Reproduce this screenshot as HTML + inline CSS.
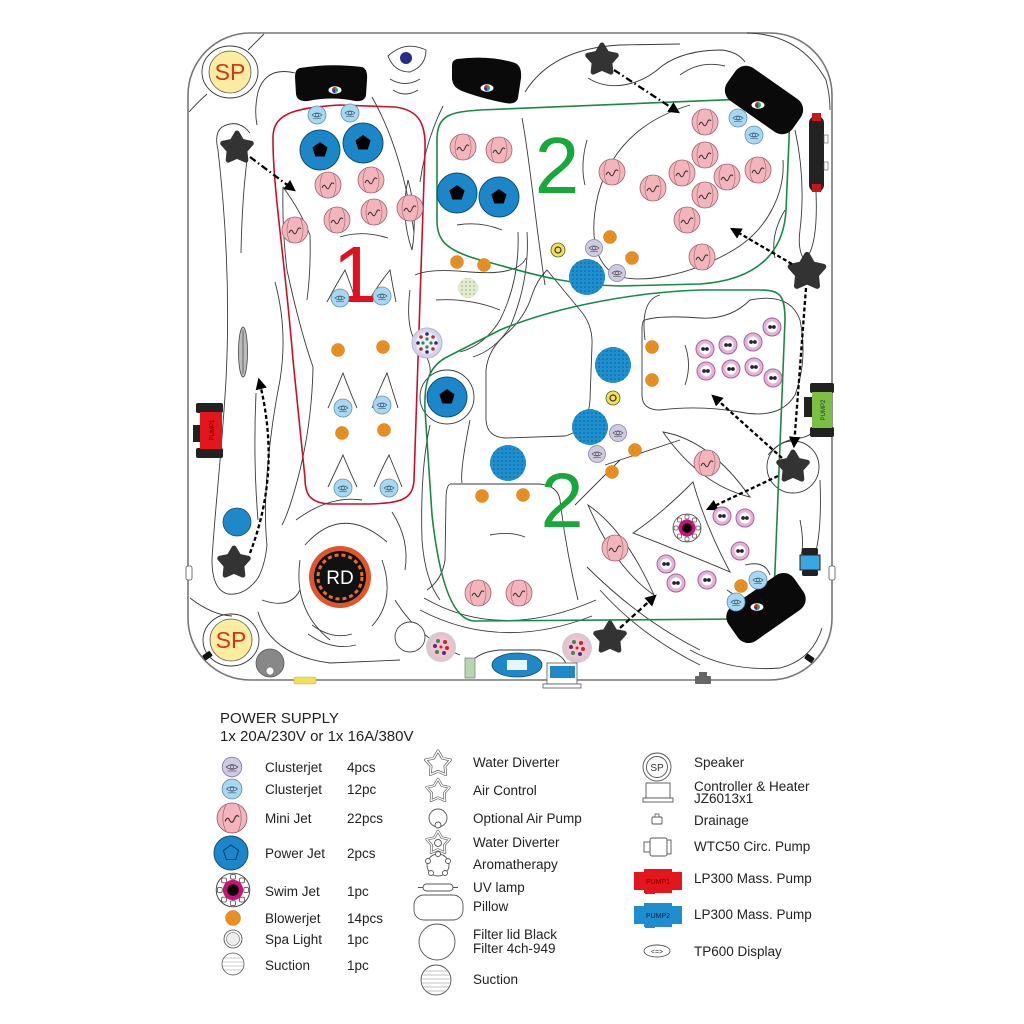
<!DOCTYPE html>
<html><head><meta charset="utf-8"><style>
html,body{margin:0;padding:0;background:#fff;}
svg{display:block;}
.ln{fill:none;stroke:#3a3a3a;stroke-width:0.9;}
.t{font-family:"Liberation Sans",Arial,sans-serif;fill:#222;font-size:13.5px;}
</style></head><body>
<svg width="1024" height="1024" viewBox="0 0 1024 1024" xmlns="http://www.w3.org/2000/svg">
<defs>
<pattern id="dp" width="4" height="4" patternUnits="userSpaceOnUse"><circle cx="2" cy="2" r="0.8" fill="#0c5d94"/></pattern>
<pattern id="gp" width="4" height="4" patternUnits="userSpaceOnUse"><circle cx="2" cy="2" r="0.8" fill="#9aab7a"/></pattern>
<marker id="ah" viewBox="0 0 10 10" refX="8" refY="5" markerWidth="5" markerHeight="5" orient="auto"><path d="M0,0 L10,5 L0,10 z" fill="#000"/></marker>
<g id="mj"><circle r="13" fill="#f3b5bb" stroke="#9c6470" stroke-width="0.8"/><path d="M-5,-12 Q-11,0 -5,12 M5,-12 Q11,0 5,12" fill="none" stroke="#9c6470" stroke-width="0.6"/><path d="M-6,3 q2,-5 4,-1 t4,-1 t4,-2" fill="none" stroke="#333" stroke-width="1"/></g>
<g id="cb"><circle r="9" fill="#a8d8f0" stroke="#5d8fb0" stroke-width="0.8"/><path d="M-5,0 Q0,-4 5,0 Q0,4 -5,0 Z" fill="none" stroke="#3d6078" stroke-width="0.7"/><circle r="1.6" fill="none" stroke="#3d6078" stroke-width="0.6"/><path d="M-4,3.5 h8" stroke="#3d6078" stroke-width="0.6"/></g>
<g id="cp"><circle r="8.5" fill="#cfcae2" stroke="#8a80a8" stroke-width="0.8"/><path d="M-5,0 Q0,-4 5,0 Q0,4 -5,0 Z" fill="none" stroke="#555" stroke-width="0.7"/><circle r="1.5" fill="none" stroke="#555" stroke-width="0.6"/><path d="M-4,3.5 h8" stroke="#555" stroke-width="0.6"/></g>
<g id="pj"><circle r="20" fill="#1b87c9" stroke="#0d4f7a" stroke-width="1"/><polygon points="0,-8 7.6,-2.5 4.7,6.5 -4.7,6.5 -7.6,-2.5" fill="#000"/></g>
<g id="bj"><circle r="6.5" fill="#e8901f" stroke="#c7701a" stroke-width="0.5"/><circle r="2.5" fill="none" stroke="#c06a10" stroke-width="0.5" stroke-dasharray="1 1"/></g>
<g id="db"><circle r="18" fill="#1e90d0"/><circle r="18" fill="url(#dp)"/></g>
<g id="pk"><circle r="9" fill="#e6b3d6" stroke="#a8609a" stroke-width="1"/><circle r="5.5" fill="#fff"/><circle cx="-1.9" r="1.9" fill="#223"/><circle cx="1.9" r="1.9" fill="#223"/></g>
<g id="st"><path d="M0,-15 L4.85,-6.68 L14.27,-4.64 L7.85,2.55 L8.82,12.14 L0,8.25 L-8.82,12.14 L-7.85,2.55 L-14.27,-4.64 L-4.85,-6.68 Z" fill="#333" stroke="#333" stroke-width="5" stroke-linejoin="round"/></g>
<g id="sto"><path d="M0,-12 L3.9,-5.3 L11.4,-3.7 L6.3,2 L7,9.7 L0,6.6 L-7,9.7 L-6.3,2 L-11.4,-3.7 L-3.9,-5.3 Z" fill="none" stroke="#555" stroke-width="2.5" stroke-linejoin="round"/><path d="M0,-12 L3.9,-5.3 L11.4,-3.7 L6.3,2 L7,9.7 L0,6.6 L-7,9.7 L-6.3,2 L-11.4,-3.7 L-3.9,-5.3 Z" fill="none" stroke="#fff" stroke-width="1.3" stroke-linejoin="round"/></g>
<g id="sw"><circle r="14" fill="#fff" stroke="#444" stroke-width="0.8"/><g fill="none" stroke="#555" stroke-width="0.7"><rect x="-2" y="-13" width="4" height="4" rx="1"/><rect x="-2" y="9" width="4" height="4" rx="1"/><rect x="-13" y="-2" width="4" height="4" rx="1"/><rect x="9" y="-2" width="4" height="4" rx="1"/><rect x="5.5" y="-10" width="4" height="4" rx="1"/><rect x="-9.5" y="-10" width="4" height="4" rx="1"/><rect x="5.5" y="6" width="4" height="4" rx="1"/><rect x="-9.5" y="6" width="4" height="4" rx="1"/></g><circle r="8.5" fill="#d0107a"/><circle r="4.8" fill="#000"/></g>
<g id="lt"><circle r="15" fill="#dcc6cf"/><circle r="10.5" fill="#f2c4d0"/><circle cx="-3" cy="-6" r="2" fill="#3a8a4a"/><circle cx="4" cy="-5" r="2" fill="#c0282a"/><circle cx="6" cy="1" r="2" fill="#c0282a"/><circle cx="3" cy="6" r="2" fill="#5a2a8a"/><circle cx="-4" cy="5" r="2" fill="#3a8a4a"/><circle cx="-6" cy="-1" r="2" fill="#5a2a8a"/><circle cx="0" cy="0" r="1.5" fill="#c0282a"/></g>
<g id="ey"><ellipse rx="6.5" ry="3.8" fill="#fff"/><circle r="3" fill="#2a6"/><path d="M-3,0 A3,3 0 0 1 0,-3 L0,0 Z" fill="#d22"/><path d="M0,0 L0,3 A3,3 0 0 1 -3,0 Z" fill="#33a"/></g>
</defs>

<!-- tub outline -->
<rect x="188" y="33" width="644" height="647" rx="62" ry="62" fill="#fff" stroke="#777" stroke-width="1.6"/>

<!-- thin interior lines -->
<g class="ln">
<ellipse cx="230" cy="72" rx="28" ry="26"/>
<path d="M189,112 Q198,102 207,94"/>
<path d="M248,50 L264,34"/>
<path d="M295,73 Q266,66 258,92 Q254,110 257,125"/>
<path d="M250,133 Q238,118 222,127 Q214,133 218,150 C226,220 230,300 226,380 C222,450 214,520 212,560 Q212,590 228,594 Q245,596 258,578 Q265,565 267,545 C262,500 270,430 280,380 Q288,330 275,282"/>
<path d="M247,160 Q242,200 241,253"/>
<path d="M283,187 Q300,210 310,235 Q311,270 307,300"/>
<path d="M283,187 Q282,230 287,270 Q300,330 313,367 Q312,420 300,470 Q290,510 282,525"/>
<path d="M256,393 Q253,460 258,520"/>
<path d="M372,97 Q402,150 414,232"/>
<path d="M443,106 Q426,140 420,182"/>
<path d="M408,180 Q400,215 412,250 Q418,215 408,180 Z"/>
<path d="M340,237 Q362,230 388,238"/>
<path d="M327,302 Q336,285 345,270 Q352,288 356,302"/>
<path d="M368,302 Q378,285 390,270 Q393,288 396,302"/>
<path d="M328,408 Q336,390 343,373 Q350,392 357,408"/>
<path d="M372,408 Q379,390 387,373 Q393,392 398,408"/>
<path d="M328,487 Q336,470 343,455 Q350,472 357,487"/>
<path d="M374,487 Q381,470 389,455 Q396,472 402,487"/>
<path d="M388,56 Q405,40 426,50 Q426,66 410,72 Q394,72 388,56 Z"/>
<path d="M390,79 Q405,88 420,79"/>
<path d="M393,90 Q405,98 418,90"/>
<path d="M525,92 C545,60 580,47 620,45 L680,44"/>
<path d="M588,78 C610,92 640,86 662,66 Q684,50 722,50 Q738,52 745,62"/>
<path d="M680,75 Q700,60 725,66"/>
<path d="M522,118 C530,160 535,220 545,285"/>
<path d="M598,195 C590,230 592,260 615,275 C640,285 690,275 730,252 C770,230 785,190 783,160"/>
<path d="M598,195 C610,150 640,120 690,105"/>
<path d="M587,140 Q580,165 585,185"/>
<path d="M457,225 Q480,221 502,230"/>
<path d="M747,33 Q800,34 826,80 Q830,95 830,110"/>
<path d="M795,130 Q806,180 800,230 Q797,252 806,262"/>
<path d="M816,192 Q818,240 808,256"/>
<path d="M785,210 Q770,235 775,258"/>
<path d="M415,275 Q430,268 470,272 Q518,276 526,258"/>
<path d="M436,300 Q470,298 500,310"/>
<path d="M410,290 Q405,330 418,345 Q432,360 430,375"/>
<path d="M527,232 Q530,280 510,327 Q495,350 473,357"/>
<path d="M518,232 Q520,280 500,320 Q485,345 460,352"/>
<path d="M547,270 L580,310 Q593,325 592,345 L590,400 Q588,430 565,436 L505,438 Q487,437 486,420 L486,370 Q488,350 505,335 Q525,318 532,295 Q537,280 547,270 Z"/>
<circle cx="447" cy="397" r="27"/>
<path d="M430,425 Q420,470 422,540 Q425,580 440,600"/>
<path d="M470,420 Q460,470 462,483"/>
<path d="M450,484 L540,484 Q558,486 560,500 Q566,550 578,600"/>
<path d="M450,484 Q446,486 446,500 L445,560 Q442,580 427,590"/>
<path d="M490,535 Q510,531 525,537"/>
<path d="M420,610 Q500,652 592,616"/>
<path d="M424,598 Q500,642 596,600"/>
<path d="M468,668 Q474,652 500,650 L540,650 Q562,652 566,664"/>
<path d="M588,505 Q625,530 654,595 Q615,568 588,505 Z"/>
<path d="M663,432 Q710,440 750,497 Q700,485 663,432 Z"/>
<path d="M693,482 Q660,515 633,533 Q690,555 730,572 Q705,525 693,482 Z"/>
<path d="M645,320 Q660,315 700,318 Q730,320 750,300 Q790,292 800,320 Q808,360 795,395 Q780,420 740,412 Q700,405 660,410 Q642,410 642,395 L642,330 Q642,320 645,320 Z"/>
<path d="M685,345 Q692,365 685,385"/>
<circle cx="793" cy="467" r="26"/>
<path d="M768,455 Q780,440 800,438 Q815,436 820,420"/>
<path d="M645,340 Q640,300 660,295"/>
<path d="M680,440 L605,465"/>
<path d="M620,460 L575,505"/>
<path d="M587,567 Q640,620 700,650"/>
<path d="M600,590 Q640,635 700,665"/>
<path d="M690,650 Q730,672 780,668 Q812,660 822,628"/>
<path d="M820,480 Q822,530 815,555"/>
<path d="M800,520 Q805,545 800,560"/>
<path d="M745,565 Q765,560 770,575"/>
<path d="M727,590 Q740,600 758,598"/>
<path d="M305,545 Q342,503 387,542"/>
<path d="M296,520 Q330,495 362,500"/>
<path d="M392,512 Q410,540 405,570"/>
<path d="M300,560 Q293,610 330,640"/>
<path d="M382,560 Q396,600 372,626"/>
<path d="M312,625 Q332,640 352,634"/>
<path d="M308,634 Q332,651 356,645"/>
<path d="M258,612 Q270,655 330,663 L400,660"/>
<path d="M190,598 Q212,615 232,616"/>
<path d="M262,600 Q290,610 300,590"/>
<path d="M395,600 Q420,640 460,655"/>
</g>

<!-- red region 1 -->
<path d="M273,140 C272,115 290,108 340,105 L395,107 C420,110 426,125 425,150 L414,480 C413,500 400,503 370,504 L330,504 C308,503 305,492 305,478 L293,360 C285,260 273,190 273,140 Z" fill="none" stroke="#c8102e" stroke-width="1.6"/>

<!-- green regions -->
<path d="M437,140 C437,115 450,112 480,110 L770,98 C790,98 790,110 789,140 L786,210 C784,250 760,280 700,284 L620,286 C560,285 520,270 480,260 C445,250 437,240 437,220 Z" fill="none" stroke="#178a4a" stroke-width="1.6"/>
<path d="M785,320 C785,295 780,290 760,290 L700,290 C640,292 560,305 500,330 L445,358 C428,368 424,385 425,410 L432,515 C438,570 450,621 475,621 L740,619 C768,617 774,600 775,570 Z" fill="none" stroke="#178a4a" stroke-width="1.6"/>

<!-- numbers -->
<text x="355" y="302" font-family="Liberation Sans,Arial,sans-serif" font-size="80" fill="#e0101e" text-anchor="middle">1</text>
<text x="557" y="193" font-family="Liberation Sans,Arial,sans-serif" font-size="80" fill="#17a83a" text-anchor="middle">2</text>
<text x="562" y="527" font-family="Liberation Sans,Arial,sans-serif" font-size="77" fill="#17a83a" text-anchor="middle">2</text>

<!-- pillows -->
<path d="M300,68 Q330,63 362,67 Q368,69 367,80 L366,95 Q365,102 355,101 Q332,96 308,101 Q297,102 296,94 L295,77 Q295,69 300,68 Z" fill="#0a0a0a"/>
<use href="#ey" x="335" y="90"/>
<path d="M457,59 Q490,55 515,63 Q522,66 521,78 L518,98 Q516,105 505,103 Q480,98 462,91 Q452,87 452,78 L452,66 Q452,60 457,59 Z" fill="#0a0a0a"/>
<use href="#ey" x="487" y="88"/>
<rect x="724" y="80" width="80" height="40" rx="13" fill="#0a0a0a" transform="rotate(35 764 100)"/>
<use href="#ey" x="758" y="105"/>
<rect x="726" y="587" width="80" height="42" rx="13" fill="#0a0a0a" transform="rotate(-35 766 608)"/>
<use href="#ey" x="757" y="607"/>

<!-- top blue dot -->
<circle cx="406" cy="58" r="6" fill="#2a2a8a"/>

<!-- SP -->
<circle cx="230" cy="72" r="21" fill="#fbeda0" stroke="#555" stroke-width="0.8"/>
<text x="230" y="80" font-family="Liberation Sans,Arial,sans-serif" font-size="23" fill="#d4341f" text-anchor="middle">SP</text>
<ellipse cx="231" cy="640" rx="28" ry="26" fill="none" stroke="#3a3a3a" stroke-width="0.9"/>
<circle cx="231" cy="640" r="21" fill="#fbeda0" stroke="#555" stroke-width="0.8"/>
<text x="231" y="648" font-family="Liberation Sans,Arial,sans-serif" font-size="23" fill="#d4341f" text-anchor="middle">SP</text>

<!-- stars -->
<use href="#st" x="237" y="148"/>
<use href="#st" x="234" y="563"/>
<use href="#st" x="602" y="60"/>
<use href="#st" x="807" y="272" transform="translate(807 272) scale(1.15) translate(-807 -272)"/>
<use href="#st" x="793" y="467"/>
<use href="#st" x="610" y="638"/>

<!-- arrows -->
<g fill="none" stroke="#000" stroke-width="2.3" marker-end="url(#ah)">
<path d="M250,157 L294,190" stroke-dasharray="7 3 1.5 3"/>
<path d="M250,553 Q282,470 259,380" stroke-dasharray="4 2.5"/>
<path d="M614,70 L678,112" stroke-dasharray="7 3 1.5 3"/>
<path d="M792,264 L732,229" stroke-dasharray="4 2.5"/>
<path d="M806,288 L794,446" stroke-dasharray="4 2.5"/>
<path d="M782,458 L713,396" stroke-dasharray="4 2.5"/>
<path d="M778,476 L708,509" stroke-dasharray="4 2.5"/>
<path d="M620,628 L655,596" stroke-dasharray="5 3"/>
</g>

<!-- power jets -->
<use href="#pj" x="320" y="150"/>
<use href="#pj" x="363" y="143"/>
<use href="#pj" x="457" y="193"/>
<use href="#pj" x="499" y="197"/>
<use href="#pj" x="447" y="397"/>

<!-- clusterjets light blue -->
<use href="#cb" x="317" y="115"/>
<use href="#cb" x="350" y="113"/>
<use href="#cb" x="340" y="298"/>
<use href="#cb" x="382" y="296"/>
<use href="#cb" x="343" y="408"/>
<use href="#cb" x="382" y="405"/>
<use href="#cb" x="343" y="488"/>
<use href="#cb" x="389" y="488"/>
<use href="#cb" x="738" y="118"/>
<use href="#cb" x="754" y="135"/>
<use href="#cb" x="758" y="580"/>
<use href="#cb" x="736" y="602"/>
<!-- clusterjets purple -->
<use href="#cp" x="594" y="248"/>
<use href="#cp" x="617" y="273"/>
<use href="#cp" x="618" y="433"/>
<use href="#cp" x="597" y="454"/>

<!-- mini jets -->
<use href="#mj" x="328" y="185"/>
<use href="#mj" x="371" y="180"/>
<use href="#mj" x="337" y="220"/>
<use href="#mj" x="374" y="212"/>
<use href="#mj" x="410" y="208"/>
<use href="#mj" x="295" y="230"/>
<use href="#mj" x="463" y="147"/>
<use href="#mj" x="499" y="150"/>
<use href="#mj" x="705" y="122"/>
<use href="#mj" x="612" y="172"/>
<use href="#mj" x="705" y="155"/>
<use href="#mj" x="682" y="173"/>
<use href="#mj" x="653" y="188"/>
<use href="#mj" x="727" y="177"/>
<use href="#mj" x="758" y="170"/>
<use href="#mj" x="705" y="195"/>
<use href="#mj" x="687" y="220"/>
<use href="#mj" x="702" y="257"/>
<use href="#mj" x="707" y="463"/>
<use href="#mj" x="615" y="548"/>
<use href="#mj" x="478" y="593"/>
<use href="#mj" x="519" y="593"/>

<!-- blower jets -->
<use href="#bj" x="457" y="262"/>
<use href="#bj" x="484" y="265"/>
<use href="#bj" x="338" y="350"/>
<use href="#bj" x="383" y="347"/>
<use href="#bj" x="342" y="433"/>
<use href="#bj" x="384" y="430"/>
<use href="#bj" x="610" y="237"/>
<use href="#bj" x="632" y="258"/>
<use href="#bj" x="652" y="347"/>
<use href="#bj" x="652" y="380"/>
<use href="#bj" x="635" y="450"/>
<use href="#bj" x="612" y="472"/>
<use href="#bj" x="482" y="496"/>
<use href="#bj" x="523" y="495"/>
<use href="#bj" x="741" y="586"/>

<!-- dotted blue -->
<use href="#db" x="587" y="277"/>
<use href="#db" x="613" y="365"/>
<use href="#db" x="590" y="427"/>
<use href="#db" x="508" y="463"/>

<!-- yellow rings -->
<circle cx="558" cy="250" r="7" fill="#f3e24a" stroke="#555" stroke-width="0.8"/><circle cx="558" cy="250" r="3" fill="none" stroke="#333" stroke-width="1.2"/>
<circle cx="613" cy="398" r="7" fill="#f3e24a" stroke="#555" stroke-width="0.8"/><circle cx="613" cy="398" r="3" fill="none" stroke="#333" stroke-width="1.2"/>

<!-- spa light -->
<circle cx="468" cy="288" r="10" fill="#e2ebd3"/><circle cx="468" cy="288" r="10" fill="url(#gp)"/>

<!-- aromatherapy multi-dot -->
<circle cx="427" cy="343" r="15" fill="#d5d3ea" stroke="#b5b3d5" stroke-width="1"/>
<circle cx="427" cy="343" r="11" fill="#eeeef8"/>
<g fill="#2a2a8a"><circle cx="427" cy="334" r="1.8"/><circle cx="427" cy="352" r="1.8"/><circle cx="418" cy="343" r="1.8"/><circle cx="436" cy="343" r="1.8"/></g>
<g fill="#c0282a"><circle cx="421" cy="337" r="1.8"/><circle cx="433" cy="337" r="1.8"/><circle cx="421" cy="349" r="1.8"/><circle cx="433" cy="349" r="1.8"/></g>
<g fill="#2a8a4a"><circle cx="427" cy="339" r="1.6"/><circle cx="427" cy="347" r="1.6"/><circle cx="423" cy="343" r="1.6"/><circle cx="431" cy="343" r="1.6"/></g>

<!-- pink small jets -->
<use href="#pk" x="772" y="327"/>
<use href="#pk" x="705" y="349"/>
<use href="#pk" x="728" y="345"/>
<use href="#pk" x="753" y="342"/>
<use href="#pk" x="706" y="371"/>
<use href="#pk" x="731" y="369"/>
<use href="#pk" x="754" y="367"/>
<use href="#pk" x="773" y="378"/>
<use href="#pk" x="722" y="516"/>
<use href="#pk" x="745" y="518"/>
<use href="#pk" x="740" y="551"/>
<use href="#pk" x="666" y="564"/>
<use href="#pk" x="676" y="583"/>
<use href="#pk" x="707" y="580"/>

<!-- swim jet -->
<use href="#sw" x="687" y="528"/>

<!-- RD -->
<circle cx="340" cy="577" r="31" fill="#e0552a"/>
<circle cx="340" cy="577" r="26" fill="#111"/>
<circle cx="340" cy="577" r="22" fill="none" stroke="#e07030" stroke-width="3" stroke-dasharray="4 3"/>
<text x="340" y="584" font-family="Liberation Sans,Arial,sans-serif" font-size="19" fill="#fff" text-anchor="middle">RD</text>

<!-- left side items -->
<ellipse cx="243" cy="352" rx="4.5" ry="25" fill="#bbb" stroke="#444" stroke-width="0.8"/>
<line x1="243" y1="330" x2="243" y2="374" stroke="#666" stroke-width="1"/>
<rect x="196" y="403" width="27" height="10" rx="2" fill="#222"/>
<rect x="196" y="448" width="27" height="10" rx="2" fill="#222"/>
<rect x="193" y="425" width="8" height="17" fill="#222"/>
<rect x="200" y="412" width="22" height="37" fill="#e4161d"/>
<text x="0" y="0" transform="translate(214 430) rotate(-90)" font-family="Liberation Sans,Arial,sans-serif" font-size="6" fill="#600" text-anchor="middle">PUMP1</text>
<circle cx="237" cy="522" r="14" fill="#1e88c8" stroke="#0d4f7a" stroke-width="0.8"/>
<rect x="186" y="566" width="6" height="14" rx="2" fill="#fff" stroke="#555" stroke-width="0.8"/>
<rect x="203" y="653" width="9" height="6" rx="1" fill="#111" transform="rotate(-35 207 656)"/>
<circle cx="270" cy="663" r="14" fill="#888" stroke="#555" stroke-width="0.8"/>
<circle cx="270" cy="671" r="4" fill="#fff" stroke="#555" stroke-width="0.6"/>
<rect x="294" y="677" width="22" height="7" rx="2" fill="#f3e050" stroke="#aa9" stroke-width="0.6"/>
<circle cx="410" cy="637" r="15" fill="#fff" stroke="#444" stroke-width="0.9"/>
<use href="#lt" x="441" y="647"/>
<use href="#lt" x="577" y="648"/>
<rect x="465" y="658" width="10" height="20" fill="#b5d6b0" stroke="#777" stroke-width="0.7"/>
<ellipse cx="517" cy="665" rx="25" ry="12" fill="#1e88c8" stroke="#0d4f7a" stroke-width="0.8"/>
<rect x="507" y="660" width="20" height="10" fill="#e8f4fb"/>
<rect x="547" y="663" width="30" height="21" fill="#fff" stroke="#555" stroke-width="0.8"/>
<rect x="550" y="666" width="25" height="12" fill="#1e88c8"/>
<rect x="543" y="684" width="38" height="4" fill="#fff" stroke="#555" stroke-width="0.8"/>
<rect x="695" y="676" width="16" height="8" rx="1" fill="#666"/>
<rect x="699" y="672" width="8" height="5" fill="#666"/>
<rect x="805" y="655" width="9" height="6" rx="1" fill="#111" transform="rotate(35 809 658)"/>

<!-- right side items -->
<rect x="809" y="116" width="15" height="76" rx="7" fill="#222"/>
<rect x="812" y="113" width="9" height="8" fill="#c8161d"/>
<rect x="812" y="184" width="9" height="8" fill="#c8161d"/>
<rect x="824" y="135" width="4" height="8" fill="#fff" stroke="#555" stroke-width="0.6"/>
<rect x="824" y="162" width="4" height="8" fill="#fff" stroke="#555" stroke-width="0.6"/>
<rect x="810" y="383" width="24" height="10" rx="2" fill="#222"/>
<rect x="810" y="427" width="24" height="10" rx="2" fill="#222"/>
<rect x="804" y="397" width="8" height="20" fill="#222"/>
<rect x="812" y="392" width="20" height="36" fill="#7bc043"/>
<text x="0" y="0" transform="translate(825 410) rotate(-90)" font-family="Liberation Sans,Arial,sans-serif" font-size="6" fill="#234" text-anchor="middle">PUMP2</text>
<rect x="802" y="548" width="16" height="7" rx="2" fill="#222"/>
<rect x="802" y="570" width="16" height="6" rx="2" fill="#222"/>
<rect x="800" y="555" width="20" height="15" fill="#3aa8e0" stroke="#222" stroke-width="1"/>
<rect x="829" y="566" width="6" height="14" rx="2" fill="#fff" stroke="#555" stroke-width="0.8"/>

<!-- LEGEND -->
<text x="220" y="723" font-family="Liberation Sans,Arial,sans-serif" font-size="15" fill="#222">POWER SUPPLY</text>
<text x="220" y="741" font-family="Liberation Sans,Arial,sans-serif" font-size="15" fill="#222">1x 20A/230V or 1x 16A/380V</text>

<use href="#cp" x="232" y="767" transform="translate(232 767) scale(1.15) translate(-232 -767)"/>
<use href="#cb" x="232" y="789" transform="translate(232 789) scale(1.1) translate(-232 -789)"/>
<use href="#mj" x="232" y="818" transform="translate(232 818) scale(1.15) translate(-232 -818)"/>
<circle cx="231" cy="853" r="17" fill="#1b87c9" stroke="#0d4f7a" stroke-width="1"/>
<polygon points="231,845 238.6,850.5 235.7,859.5 226.3,859.5 223.4,850.5" fill="none" stroke="#0d3f6a" stroke-width="1"/>
<use href="#sw" x="233" y="890" transform="translate(233 890) scale(1.2) translate(-233 -890)"/>
<circle cx="233" cy="918" r="7.5" fill="#e8901f" stroke="#c7701a" stroke-width="0.5"/>
<circle cx="233" cy="939" r="9" fill="#fff" stroke="#444" stroke-width="0.8"/>
<circle cx="233" cy="939" r="6.5" fill="#eee" stroke="#666" stroke-width="0.6"/>
<circle cx="233" cy="964" r="11" fill="#fff" stroke="#555" stroke-width="0.8"/>
<g stroke="#999" stroke-width="0.6"><line x1="224" y1="958" x2="242" y2="958"/><line x1="223" y1="962" x2="243" y2="962"/><line x1="223" y1="966" x2="243" y2="966"/><line x1="224" y1="970" x2="242" y2="970"/></g>

<g class="t">
<text x="265" y="772">Clusterjet</text><text x="347" y="772">4pcs</text>
<text x="265" y="794">Clusterjet</text><text x="347" y="794">12pc</text>
<text x="265" y="823">Mini Jet</text><text x="347" y="823">22pcs</text>
<text x="265" y="858">Power Jet</text><text x="347" y="858">2pcs</text>
<text x="265" y="896">Swim Jet</text><text x="347" y="896">1pc</text>
<text x="265" y="923">Blowerjet</text><text x="347" y="923">14pcs</text>
<text x="265" y="944">Spa Light</text><text x="347" y="944">1pc</text>
<text x="265" y="970">Suction</text><text x="347" y="970">1pc</text>

<text x="473" y="767">Water Diverter</text>
<text x="473" y="795">Air Control</text>
<text x="473" y="823">Optional Air Pump</text>
<text x="473" y="847">Water Diverter</text>
<text x="473" y="869">Aromatherapy</text>
<text x="473" y="892">UV lamp</text>
<text x="473" y="911">Pillow</text>
<text x="473" y="939">Filter lid Black</text>
<text x="473" y="953">Filter 4ch-949</text>
<text x="473" y="984">Suction</text>

<text x="694" y="767">Speaker</text>
<text x="694" y="791">Controller &amp; Heater</text>
<text x="694" y="803">JZ6013x1</text>
<text x="694" y="825">Drainage</text>
<text x="694" y="851">WTC50 Circ. Pump</text>
<text x="694" y="883">LP300 Mass. Pump</text>
<text x="694" y="919">LP300 Mass. Pump</text>
<text x="694" y="956">TP600 Display</text>
</g>

<!-- col2 icons -->
<use href="#sto" x="438" y="764" transform="translate(438 764) scale(1.1) translate(-438 -764)"/>
<use href="#sto" x="438" y="791"/>
<circle cx="438" cy="818" r="9" fill="#fff" stroke="#555" stroke-width="0.9"/>
<circle cx="438" cy="825" r="3" fill="#fff" stroke="#555" stroke-width="0.9"/>
<use href="#sto" x="438" y="843"/>
<circle cx="438" cy="843" r="3.5" fill="none" stroke="#555" stroke-width="0.9"/>
<circle cx="438" cy="865" r="11" fill="#fff" stroke="#555" stroke-width="0.9"/>
<g fill="#fff" stroke="#555" stroke-width="0.9"><circle cx="438" cy="854" r="2.5"/><circle cx="448" cy="861" r="2.5"/><circle cx="445" cy="873" r="2.5"/><circle cx="431" cy="873" r="2.5"/><circle cx="428" cy="861" r="2.5"/></g>
<rect x="423" y="884" width="30" height="7" rx="3.5" fill="#fff" stroke="#555" stroke-width="0.9"/>
<line x1="418" y1="887.5" x2="423" y2="887.5" stroke="#555"/><line x1="453" y1="887.5" x2="458" y2="887.5" stroke="#555"/>
<rect x="414" y="895" width="49" height="25" rx="10" fill="#fff" stroke="#555" stroke-width="0.9"/>
<circle cx="437" cy="942" r="18" fill="#fff" stroke="#555" stroke-width="0.9"/>
<circle cx="436" cy="980" r="15" fill="#fff" stroke="#555" stroke-width="0.9"/>
<g stroke="#888" stroke-width="0.6"><line x1="424" y1="971" x2="448" y2="971"/><line x1="422" y1="975" x2="450" y2="975"/><line x1="421" y1="979" x2="451" y2="979"/><line x1="421" y1="983" x2="451" y2="983"/><line x1="422" y1="987" x2="450" y2="987"/><line x1="425" y1="991" x2="447" y2="991"/></g>

<!-- col3 icons -->
<circle cx="657" cy="767" r="14" fill="#fff" stroke="#555" stroke-width="0.9"/>
<circle cx="657" cy="767" r="10.5" fill="#fff" stroke="#555" stroke-width="0.9"/>
<text x="657" y="771" font-family="Liberation Sans,Arial,sans-serif" font-size="10" fill="#333" text-anchor="middle">SP</text>
<rect x="646" y="783" width="24" height="15" fill="#fff" stroke="#555" stroke-width="0.9"/>
<rect x="643" y="798" width="30" height="4" fill="#fff" stroke="#555" stroke-width="0.9"/>
<rect x="652" y="817" width="10" height="7" rx="1" fill="#fff" stroke="#555" stroke-width="0.9"/>
<rect x="655" y="814" width="4" height="3" fill="#fff" stroke="#555" stroke-width="0.8"/>
<rect x="650" y="838" width="17" height="18" rx="2" fill="#fff" stroke="#555" stroke-width="0.9"/>
<rect x="644" y="842" width="6" height="10" fill="#fff" stroke="#555" stroke-width="0.9"/>
<rect x="667" y="840" width="4" height="14" fill="#fff" stroke="#555" stroke-width="0.9"/>
<path d="M634,872 h10 v-3 h28 v3 h10 v18 h-10 v3 h-28 v-3 h-10 Z" fill="#e4161d"/>
<rect x="645" y="889" width="10" height="5" fill="#e4161d"/>
<text x="658" y="884" font-family="Liberation Sans,Arial,sans-serif" font-size="7" fill="#700" text-anchor="middle">PUMP1</text>
<path d="M634,906 h10 v-3 h28 v3 h10 v18 h-10 v3 h-28 v-3 h-10 Z" fill="#1e8ed0"/>
<rect x="645" y="923" width="10" height="5" fill="#1e8ed0"/>
<text x="658" y="918" font-family="Liberation Sans,Arial,sans-serif" font-size="7" fill="#123" text-anchor="middle">PUMP2</text>
<ellipse cx="657" cy="951" rx="13" ry="6" fill="#fff" stroke="#555" stroke-width="0.9"/>
<text x="657" y="954" font-family="Liberation Sans,Arial,sans-serif" font-size="7" fill="#333" text-anchor="middle">&lt;=&gt;</text>
</svg>
</body></html>
